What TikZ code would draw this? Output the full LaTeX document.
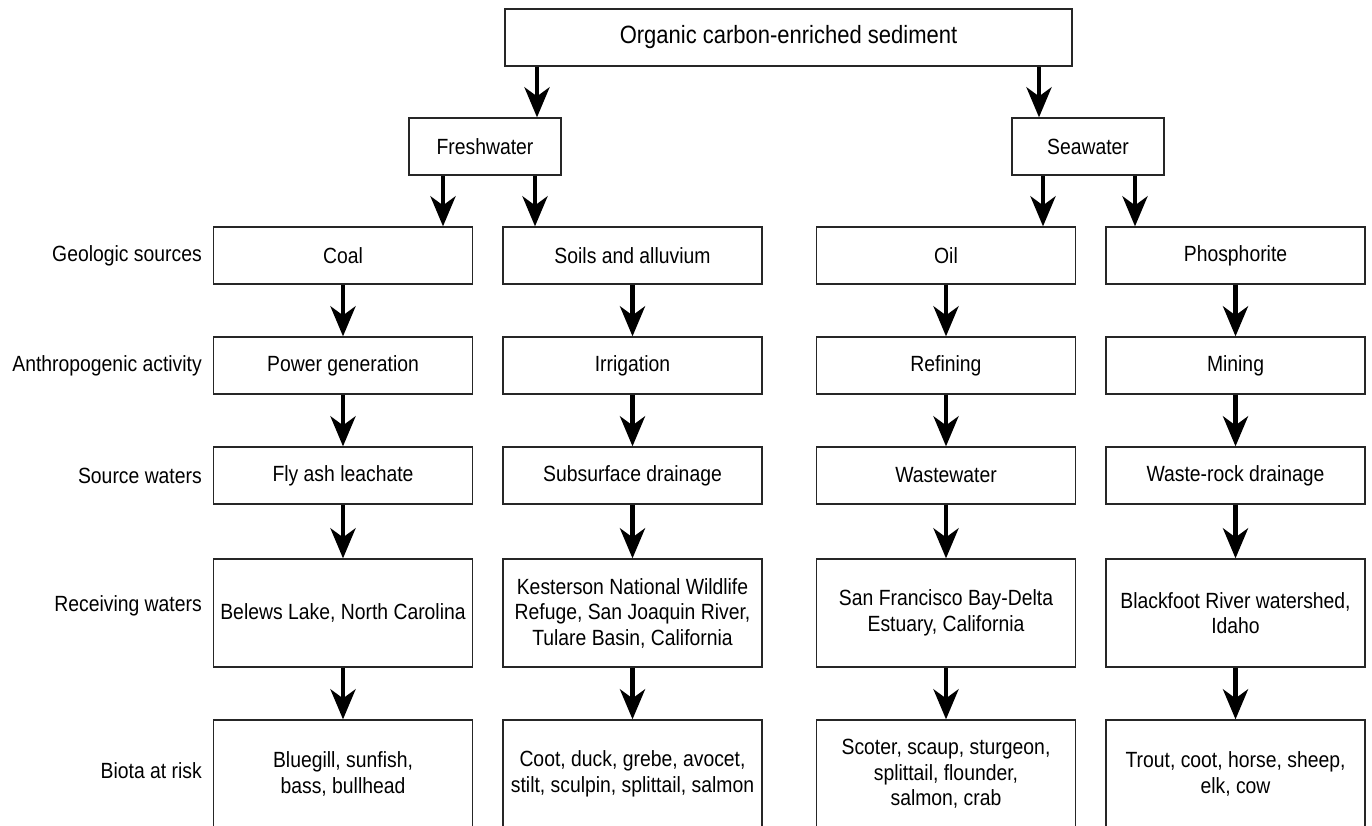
\documentclass[tikz,border=0pt]{standalone}
\usepackage{fontspec}
\setmainfont{Liberation Sans}[FakeStretch=0.88]
\usetikzlibrary{arrows.meta}
\begin{document}
\begin{tikzpicture}[x=1pt,y=-1pt,
  box/.style={draw=black!85, line width=1.3pt, minimum width=259pt, minimum height=57pt,
    inner sep=0pt, align=center, font=\fontsize{22}{25.5}\selectfont},
  tallbox/.style={box, minimum height=108pt},
  biotabox/.style={box, minimum height=108pt},
  splitbox/.style={box, minimum width=152pt},
  rowlabel/.style={anchor=east, inner sep=0pt, font=\fontsize{22}{25.5}\selectfont},
  flow/.style={line width=4.5pt, -{Stealth[length=30pt,width=25pt,inset=9pt]}}]

\useasboundingbox (0,0) rectangle (1372,826);
\clip (0,0) rectangle (1372,826);

% root and the two water types
\node[box, minimum width=567pt, font=\fontsize{25}{28}\selectfont] (root) at (788.5,37.5)
  {Organic carbon-enriched sediment};
\node[splitbox] (fresh) at (485,146.5) {Freshwater};
\node[splitbox] (sea) at (1088,146.5) {Seawater};

% row labels
\node[rowlabel] (lgeo)  at (202,255.5) {Geologic sources};
\node[rowlabel] (lanth) at (202,366)   {Anthropogenic activity};
\node[rowlabel] (lsrc)  at (202,475.5) {Source waters};
\node[rowlabel] (lrec)  at (202,606)   {Receiving waters};
\node[rowlabel] (lbio)  at (202,771)   {Biota at risk};

% column 1: coal
\node[box] (coal)  at (343,255.5) {Coal};
\node[box] (power) at (343,365.5) {Power generation};
\node[box] (fly)   at (343,475.5) {Fly ash leachate};
\node[tallbox] (belews) at (343,613) {Belews Lake, North Carolina};
\node[biotabox] (fish) at (343,774) {Bluegill, sunfish,\\bass, bullhead};

% column 2: soils
\node[box] (soils) at (632.5,255.5) {Soils and alluvium};
\node[box] (irr)   at (632.5,365.5) {Irrigation};
\node[box] (sub)   at (632.5,475.5) {Subsurface drainage};
\node[tallbox] (kest) at (632.5,613) {Kesterson National Wildlife\\Refuge, San Joaquin River,\\Tulare Basin, California};
\node[biotabox] (birds) at (632.5,774) {Coot, duck, grebe, avocet,\\stilt, sculpin, splittail, salmon};

% column 3: oil
\node[box] (oil)  at (946,255.5) {Oil};
\node[box] (ref)  at (946,365.5) {Refining};
\node[box] (ww)   at (946,475.5) {Wastewater};
\node[tallbox] (sfbay) at (946,613) {San Francisco Bay-Delta\\Estuary, California};
\node[biotabox] (estu) at (946,774) {Scoter, scaup, sturgeon,\\splittail, flounder,\\salmon, crab};

% column 4: phosphorite
\node[box] (phos) at (1235.5,255.5) {Phosphorite};
\node[box] (mine) at (1235.5,365.5) {Mining};
\node[box] (wr)   at (1235.5,475.5) {Waste-rock drainage};
\node[tallbox] (black) at (1235.5,613) {Blackfoot River watershed,\\Idaho};
\node[biotabox] (stock) at (1235.5,774) {Trout, coot, horse, sheep,\\elk, cow};

% branching arrows
\draw[flow] (537,0 |- root.south) -- (537,0 |- fresh.north);
\draw[flow] (1039,0 |- root.south) -- (1039,0 |- sea.north);
\draw[flow] (443,0 |- fresh.south) -- (443,0 |- coal.north);
\draw[flow] (535,0 |- fresh.south) -- (535,0 |- soils.north);
\draw[flow] (1043,0 |- sea.south) -- (1043,0 |- oil.north);
\draw[flow] (1135,0 |- sea.south) -- (1135,0 |- phos.north);

% column arrows
\foreach \a/\b in {coal/power, power/fly, fly/belews, belews/fish,
                   soils/irr, irr/sub, sub/kest, kest/birds,
                   oil/ref, ref/ww, ww/sfbay, sfbay/estu,
                   phos/mine, mine/wr, wr/black, black/stock}
  \draw[flow] (\a.south) -- (\b.north);
\end{tikzpicture}
\end{document}
